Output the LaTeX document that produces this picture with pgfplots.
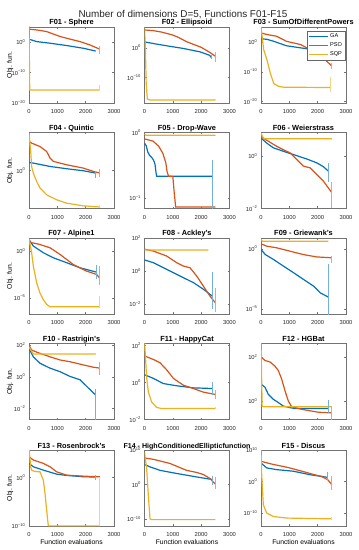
\documentclass[border=0pt]{standalone}
\usepackage{pgfplots}
\pgfplotsset{compat=1.18}
\usepackage{fontspec}
\setmainfont{Liberation Sans}
\definecolor{gablue}{rgb}{0,0.447,0.741}
\definecolor{psored}{rgb}{0.85,0.325,0.098}
\definecolor{sqpyel}{rgb}{0.929,0.694,0.125}
\newcommand{\E}[1]{10\textsuperscript{#1}}
\pgfplotsset{
  panel/.style={
    scale only axis, width=85pt, height=76pt, anchor=south west,
    xmin=0, xmax=3000,
    xtick={0,1000,2000,3000}, xticklabels={0,1000,2000,3000},
    yminorticks=false,
    tick label style={font=\fontsize{5.8}{6}\selectfont, text=black!85},
    xticklabel style={yshift=-3pt},
    every axis title shift=0pt,
    title style={font=\bfseries\fontsize{7.4}{8}\selectfont, at={(0.5,1)}, anchor=base, yshift=2pt},
    axis line style={black!55, line width=0.4pt},
    tick style={black!55, line width=0.4pt},
    major tick length=2pt,
    ylabel style={font=\fontsize{6.8}{7}\selectfont, at={(axis description cs:-0.2235,0.5)}, anchor=center},
    xlabel style={font=\fontsize{6.8}{7}\selectfont, at={(axis description cs:0.5,-0.207)}, anchor=center},
  },
  ga/.style={gablue, line width=1.2pt, no marks},
  pso/.style={psored, line width=1.2pt, no marks},
  sqp/.style={sqpyel, line width=1.2pt, no marks},
  gaeb/.style={gablue!55, line width=0.7pt, no marks, forget plot},
  psoeb/.style={psored!55, line width=0.7pt, no marks, forget plot},
  sqpeb/.style={sqpyel!55, line width=0.7pt, no marks, forget plot},
}
\newcommand{\eb}[4]{\addplot[#1] coordinates {(#2,#3) (#2,#4)};}
\begin{document}
\begin{tikzpicture}
\path[use as bounding box] (0pt,0pt) rectangle (359pt,550pt);
\node[font=\fontsize{9.9}{11}\selectfont, text=black!85, inner sep=0pt] at (183pt,535pt) {Number of dimensions D=5, Functions F01-F15};

% ---------------- Row 1 ----------------
\begin{semilogyaxis}[panel, at={(29pt,447pt)}, title={F01 - Sphere}, ymin=1e-20, ymax=1e5,
  ytick={1e-20,1e-10,1}, yticklabels={\E{−20},\E{−10},\E{0}}, ylabel={Obj. fun.}]
\addplot[ga] coordinates {(0,10) (100,5.0) (270,1.58) (740,0.47) (1330,0.079) (1920,0.01) (2350,1.26e-3)};
\addplot[pso] coordinates {(0,2.0e4) (300,1.0e4) (620,3.16e3) (1090,79.4) (1330,20) (1800,1.58) (2150,0.126) (2500,5.0e-3)};
\addplot[sqp] coordinates {(0,1e6) (25,2e-16) (2500,2e-16)};
\eb{gaeb}{2350}{3.2e-3}{5e-4}
\eb{psoeb}{2500}{0.04}{1.26e-4}
\eb{sqpeb}{2500}{6.3e-15}{1.26e-16}
\end{semilogyaxis}

\begin{semilogyaxis}[panel, at={(144.5pt,447pt)}, title={F02 - Ellipsoid}, ymin=3.16e-19, ymax=1e7,
  ytick={1e-10,1}, yticklabels={\E{−10},\E{0}}]
\addplot[ga] coordinates {(0,100) (120,63) (400,20) (780,5.0) (1370,0.63) (1960,0.045) (2300,3.2e-3) (2350,6.3e-4)};
\addplot[pso] coordinates {(0,1e6) (300,6.3e5) (600,2.0e5) (1000,2.0e4) (1200,3.16e3) (1500,100) (2000,1.58) (2300,0.032) (2500,1.58e-3)};
\addplot[sqp] coordinates {(0,1e7) (30,1) (60,1e-12) (100,6.3e-18) (200,3.2e-18) (2500,3.2e-18)};
\eb{gaeb}{2350}{3.2e-3}{2.5e-4}
\eb{psoeb}{2500}{0.045}{2e-5}
\eb{sqpeb}{2500}{1e-17}{2.5e-18}
\end{semilogyaxis}

\begin{semilogyaxis}[panel, at={(261pt,447pt)}, title={F03 - SumOfDifferentPowers}, ymin=3.16e-21, ymax=1e5,
  ytick={1e-20,1e-10,1}, yticklabels={\E{−20},\E{−10},\E{0}},
  legend entries={GA,PSO,SQP}, legend cell align=left,
  legend style={at={(0.988,0.947)}, anchor=north east, font=\fontsize{5.6}{6.5}\selectfont,
    draw=black!60, line width=0.4pt, inner sep=0.8pt, row sep=-0.6pt, fill=white},
  legend image code/.code={\draw[#1] (0pt,0pt) -- (19pt,0pt);}]
\addplot[ga] coordinates {(0,10) (200,7.9) (450,1.58) (900,0.05) (1400,0.01) (1850,2.5e-3) (2350,2.0e-4)};
\addplot[pso] coordinates {(0,1000) (200,316) (550,79) (900,1.58) (1400,0.126) (1950,2.0e-4) (2200,4.0e-6) (2500,7.9e-9)};
\addplot[sqp] coordinates {(0,1e5) (95,2.5e-3) (210,1e-6) (330,3.2e-11) (450,1e-14) (620,1.26e-15) (800,6.3e-16) (2430,5.0e-16)};
\eb{gaeb}{2350}{3e-4}{1e-5}
\eb{psoeb}{2500}{1e-7}{1e-9}
\eb{sqpeb}{2430}{1.26e-12}{1.58e-17}
\end{semilogyaxis}

% ---------------- Row 2 ----------------
\begin{semilogyaxis}[panel, at={(29pt,341.5pt)}, title={F04 - Quintic}, ymin=1e-10, ymax=1e10,
  ytick={1}, yticklabels={\E{0}}, ylabel={Obj. fun.}]
\addplot[ga] coordinates {(0,126) (150,89) (740,11.7) (1330,2.9) (1920,0.85) (2350,0.21)};
\addplot[pso] coordinates {(0,4.5e7) (94,1.6e7) (388,2.0e6) (624,1e5) (741,2.0e3) (859,250) (1329,32) (1918,4.3) (2271,0.58) (2500,0.21)};
\addplot[sqp] coordinates {(0,7e9) (60,1e5) (94,10) (153,0.2) (271,1.26e-3) (388,2.5e-5) (624,4.0e-7) (976,2.0e-8) (1329,2.5e-9) (1918,5.0e-10) (2500,2.5e-10)};
\eb{gaeb}{2350}{0.58}{0.01}
\eb{psoeb}{2500}{2.4}{0.02}
\eb{sqpeb}{2500}{1e-9}{2e-10}
\end{semilogyaxis}

\begin{semilogyaxis}[panel, at={(144.5pt,341.5pt)}, title={F05 - Drop-Wave}, ymin=0.07, ymax=1,
  ytick={0.1,1}, yticklabels={\E{−1},\E{0}}]
\addplot[ga] coordinates {(0,0.69) (60,0.63) (120,0.5) (180,0.45) (250,0.42) (320,0.38) (370,0.33) (410,0.24) (430,0.217) (2380,0.217)};
\addplot[pso] coordinates {(0,0.80) (300,0.74) (500,0.62) (650,0.48) (750,0.35) (800,0.25) (850,0.217) (1000,0.215) (1050,0.12) (1100,0.074) (2500,0.074)};
\addplot[sqp] coordinates {(0,0.95) (50,0.91) (2500,0.91)};
\eb{gaeb}{2380}{0.38}{0.07}
\eb{sqpeb}{2500}{0.93}{0.89}
\end{semilogyaxis}

\begin{semilogyaxis}[panel, at={(261pt,341.5pt)}, title={F06 - Weierstrass}, ymin=0.01, ymax=8.1,
  ytick={0.01,1}, yticklabels={\E{−2},\E{0}}]
\addplot[ga] coordinates {(0,5.0) (200,3.2) (435,2.1) (790,1.55) (1140,1.16) (1610,0.79) (1965,0.56) (2200,0.40) (2376,0.27)};
\addplot[pso] coordinates {(0,5.5) (200,4.1) (553,2.4) (788,1.78) (1024,1.35) (1259,0.75) (1494,0.42) (1729,0.36) (1965,0.2) (2200,0.112) (2494,0.041)};
\addplot[sqp] coordinates {(0,7.8) (60,5.5) (110,4.7) (2500,4.7)};
\eb{gaeb}{2376}{0.56}{0.107}
\eb{psoeb}{2494}{0.1}{0.01}
\end{semilogyaxis}

% ---------------- Row 3 ----------------
\begin{semilogyaxis}[panel, at={(29pt,236pt)}, title={F07 - Alpine1}, ymin=1.86e-7, ymax=25.7,
  ytick={1e-5,1}, yticklabels={\E{−5},\E{0}}, ylabel={Obj. fun.}]
\addplot[ga] coordinates {(0,17.8) (153,3.5) (506,0.68) (859,0.195) (1329,0.058) (1800,0.0166) (2388,5.6e-3)};
\addplot[pso] coordinates {(0,9.3) (388,5.2) (741,2.3) (1094,0.45) (1565,0.037) (2035,7.2e-3) (2388,3.2e-3) (2482,1.4e-3)};
\addplot[sqp] coordinates {(0,21.4) (94,0.68) (153,0.025) (271,4.0e-4) (388,3.2e-5) (506,6.3e-6) (624,2.0e-6) (741,1.1e-6) (2500,1.1e-6)};
\eb{gaeb}{2388}{0.032}{1e-3}
\eb{psoeb}{2482}{0.025}{2.5e-4}
\eb{sqpeb}{2500}{1.6e-5}{8.5e-7}
\end{semilogyaxis}

\begin{semilogyaxis}[panel, at={(144.5pt,236pt)}, title={F08 - Ackley's}, ymin=2.5e-3, ymax=100,
  ytick={0.01,1,100}, yticklabels={\E{−2},\E{0},\E{2}}]
\addplot[ga] coordinates {(0,4.7) (311,3.2) (782,1.26) (1253,0.5) (1723,0.2) (2076,0.079) (2394,0.03)};
\addplot[pso] coordinates {(0,21) (311,16.2) (782,8.1) (1135,3.2) (1370,2.0) (1606,1.58) (1841,0.5) (2076,0.123) (2312,0.03) (2500,0.012)};
\addplot[sqp] coordinates {(0,20) (50,18.6) (2250,18.6)};
\eb{gaeb}{2394}{0.87}{5e-3}
\eb{psoeb}{2500}{0.1}{3.2e-3}
\end{semilogyaxis}

\begin{semilogyaxis}[panel, at={(261pt,236pt)}, title={F09 - Griewank's}, ymin=3.7e-6, ymax=7.9,
  ytick={1e-5,1}, yticklabels={\E{−5},\E{0}}]
\addplot[ga] coordinates {(0,0.87) (153,0.33) (447,0.126) (800,0.035) (1153,0.01) (1506,2.75e-3) (1859,7.6e-4) (2094,2.1e-4) (2388,9.3e-5)};
\addplot[pso] coordinates {(0,2.6) (200,1.66) (553,1.2) (1024,0.63) (1494,0.33) (1965,0.21) (2494,0.178)};
\addplot[sqp] coordinates {(0,6.0) (50,4.3) (2376,4.3)};
\eb{gaeb}{2388}{0.05}{1e-6}
\eb{psoeb}{2494}{0.25}{0.063}
\end{semilogyaxis}

% ---------------- Row 4 ----------------
\begin{semilogyaxis}[panel, at={(29pt,130.5pt)}, title={F10 - Rastrigin's}, ymin=2e-3, ymax=126,
  ytick={0.01,1,100}, yticklabels={\E{−2},\E{0},\E{2}}, ylabel={Obj. fun.}]
\addplot[ga] coordinates {(0,60) (153,18.2) (388,7.1) (741,3.5) (1094,2.1) (1447,1.05) (1800,0.65) (2035,0.25) (2329,0.076)};
\addplot[pso] coordinates {(0,98) (94,48) (388,30) (741,18.2) (1094,11.5) (1447,8.9) (1918,5.6) (2271,4.0) (2500,3.5)};
\addplot[sqp] coordinates {(0,76) (150,27) (2330,27)};
\eb{gaeb}{2329}{0.16}{1e-3}
\eb{psoeb}{2500}{8.9}{1.3}
\eb{sqpeb}{2330}{30}{24}
\end{semilogyaxis}

\begin{semilogyaxis}[panel, at={(144.5pt,130.5pt)}, title={F11 - HappyCat}, ymin=0.01, ymax=126,
  ytick={0.01,1,100}, yticklabels={\E{−2},\E{0},\E{2}}]
\addplot[ga] coordinates {(0,2.6) (311,1.66) (664,0.87) (1135,0.66) (1723,0.51) (2394,0.47)};
\addplot[pso] coordinates {(0,27) (311,17.4) (547,11.5) (782,4.8) (1018,1.66) (1370,0.71) (1723,0.47) (2076,0.30) (2500,0.224)};
\addplot[sqp] coordinates {(0,180) (78,1.66) (137,0.30) (255,0.085) (430,0.045) (600,0.039) (2500,0.039)};
\eb{gaeb}{2394}{1.1}{0.21}
\eb{psoeb}{2500}{0.4}{0.126}
\eb{sqpeb}{2500}{0.05}{0.035}
\end{semilogyaxis}

\begin{semilogyaxis}[panel, at={(261pt,130.5pt)}, title={F12 - HGBat}, ymin=0.145, ymax=407,
  ytick={1,100}, yticklabels={\E{0},\E{2}}]
\addplot[ga] coordinates {(0,5.9) (141,4.2) (259,2.0) (435,1.2) (612,0.85) (788,0.59) (1024,0.5) (1200,0.457) (2376,0.457)};
\addplot[pso] coordinates {(0,100) (141,69) (318,59) (494,38) (612,24) (729,10) (847,2.9) (965,1.0) (1082,0.55) (1435,0.42) (2024,0.31) (2494,0.29)};
\addplot[sqp] coordinates {(0,500) (40,0.58) (100,0.55) (2500,0.55)};
\eb{gaeb}{2376}{1.12}{0.29}
\eb{psoeb}{2494}{0.55}{0.1}
\end{semilogyaxis}

% ---------------- Row 5 ----------------
\begin{semilogyaxis}[panel, at={(29pt,24pt)}, title={F13 - Rosenbrock's}, ymin=1e-10, ymax=4.5e5,
  ytick={1e-10,1}, yticklabels={\E{−10},\E{0}}, ylabel={Obj. fun.}, xlabel={Function evaluations}]
\addplot[ga] coordinates {(0,794) (153,158) (506,32) (976,4.8) (1329,2.6) (1918,1.35) (2329,1.25)};
\addplot[pso] coordinates {(0,1.86e4) (153,3.8e3) (506,794) (741,158) (976,14.5) (1329,3.0) (1918,1.86) (2500,1.35)};
\addplot[sqp] coordinates {(0,1e6) (59,158) (94,32) (200,17) (388,14.5) (506,0.28) (565,5e-4) (624,1.6e-7) (682,1.05e-10) (2500,1.05e-10)};
\eb{gaeb}{2329}{3.0}{0.28}
\eb{sqpeb}{2500}{1}{1e-10}
\end{semilogyaxis}

\begin{semilogyaxis}[panel, at={(144.5pt,24pt)}, title={F14 - HighConditionedEllipticfunction},
  title style={font=\bfseries\fontsize{7.1}{8}\selectfont}, ymin=1e-12, ymax=1e10,
  ytick={1e-10,1,1e10}, yticklabels={\E{−10},\E{0},\E{10}}, xlabel={Function evaluations}]
\addplot[ga] coordinates {(0,6.3e5) (200,1.26e5) (553,1.26e4) (1141,1.58e3) (1841,158) (2394,28)};
\addplot[pso] coordinates {(0,5e7) (311,2e7) (900,1.26e6) (1488,1.26e4) (1841,3.2e3) (2076,794) (2312,55) (2500,1.26)};
\addplot[sqp] coordinates {(0,2.5e9) (76,4e4) (135,8e-4) (194,1.26e-10) (250,7e-11) (2500,7e-11)};
\eb{gaeb}{2394}{250}{1}
\eb{psoeb}{2500}{158}{0.07}
\end{semilogyaxis}

\begin{semilogyaxis}[panel, at={(261pt,24pt)}, title={F15 - Discus}, ymin=1e-14, ymax=1e10,
  ytick={1e-10,1,1e10}, yticklabels={\E{−10},\E{0},\E{10}}, xlabel={Function evaluations}]
\addplot[ga] coordinates {(0,7.9e5) (200,2.2e4) (553,6.3e3) (1141,2e3) (1729,158) (2353,23)};
\addplot[pso] coordinates {(0,2.75e6) (353,4e5) (941,3.2e4) (1529,1.26e3) (1882,158) (2118,50) (2353,4.3) (2500,0.11)};
\addplot[sqp] coordinates {(0,1e10) (24,158) (82,5e-8) (200,1.26e-10) (435,1e-11) (906,3.2e-12) (2494,1.8e-12)};
\eb{gaeb}{2353}{1.26e3}{4}
\eb{psoeb}{2500}{50}{3e-3}
\eb{sqpeb}{2494}{5e-12}{1e-12}
\end{semilogyaxis}
\end{tikzpicture}
\end{document}
